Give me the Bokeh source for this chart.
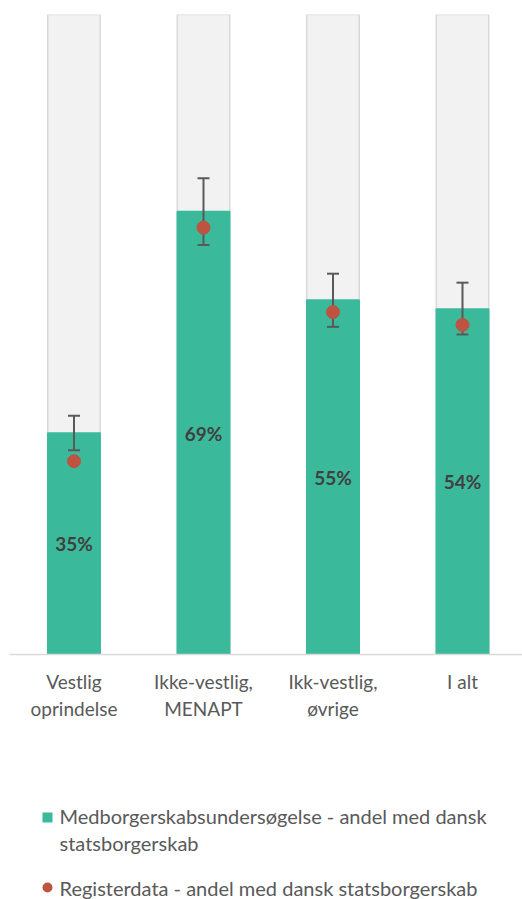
from bokeh.plotting import figure
from bokeh.models import Range1d, FixedTicker, ColumnDataSource, LabelSet
from bokeh.layouts import column
from bokeh.embed import file_html
from bokeh.resources import INLINE
from bokeh.core.properties import value

categories = ["Vestlig\noprindelse", "Ikke-vestlig,\nMENAPT", "Ikk-vestlig,\nøvrige", "I alt"]
survey = [34.6, 69.2, 55.4, 54.0]
survey_upper = [37.3, 74.4, 59.5, 58.1]
survey_lower = [31.9, 64.0, 51.2, 50.0]
register = [30.2, 66.7, 53.5, 51.5]
full = [100, 100, 100, 100]
labels = ["35%", "69%", "55%", "54%"]
legend_labels = ["Medborgerskabsundersøgelse - andel med dansk", "statsborgerskab",
                 "Registerdata - andel med dansk statsborgerskab"]

GREEN = "#3bba9b"
RED = "#bd5340"
GREY = "#595959"
FONT = "Lato"

x = list(range(len(categories)))
src = ColumnDataSource(dict(
    x=x, survey=survey, full=full, register=register,
    upper=survey_upper, lower=survey_lower,
    mid=[s / 2 for s in survey], lab=labels,
))

W = 522
H1 = 748
TOP = 14
FH = 640
LEFT = 9
p = figure(width=W, height=H1, output_backend="svg", toolbar_location=None,
           x_range=Range1d(-0.498, 3.4633), y_range=Range1d(0, 100),
           min_border_top=TOP, min_border_left=LEFT, min_border_right=0,
           min_border_bottom=H1 - TOP - FH, y_axis_location=None)
p.outline_line_color = None
p.grid.grid_line_color = None

p.vbar(x="x", top="full", bottom=0, width=0.405, source=src,
       fill_color="#f2f2f2", line_color="#d9d9d9", line_width=1.5)
p.vbar(x="x", top="survey", bottom=0, width=0.405, source=src,
       fill_color=GREEN, line_color=GREEN, line_width=1.5)

# error bars
p.segment(x0="x", y0="lower", x1="x", y1="upper", source=src,
          line_color=GREY, line_width=2)
p.scatter(x="x", y="upper", source=src, marker="dash", size=12,
          line_color=GREY, line_width=2)
p.scatter(x="x", y="lower", source=src, marker="dash", size=12,
          line_color=GREY, line_width=2)

p.scatter(x="x", y="register", source=src, size=13, marker="circle",
          fill_color=RED, line_color=RED)

lbl = LabelSet(x="x", y="mid", text="lab", source=src, text_align="center",
               text_baseline="middle", text_font=value(FONT), text_font_size="19px",
               text_font_style="bold", text_color="#404040")
p.add_layout(lbl)

ax = p.xaxis[0]
ax.ticker = FixedTicker(ticks=x)
ax.major_label_overrides = {i: c for i, c in zip(x, categories)}
ax.major_tick_line_color = None
ax.minor_tick_line_color = None
ax.axis_line_color = "#d9d9d9"
ax.axis_line_width = 1.5
ax.major_label_text_font = FONT
ax.major_label_text_font_size = "19px"
ax.major_label_text_color = GREY
ax.major_label_standoff = 9

# legend drawn in a second panel (pixel-like coordinates, y downwards);
# the column aligns its frame with the main plot's frame (left edge at LEFT)
LH = 899 - H1
lg = figure(width=W, height=LH, output_backend="svg", toolbar_location=None,
            x_range=Range1d(LEFT, W), y_range=Range1d(LH, 0),
            min_border=0, min_border_left=LEFT,
            x_axis_location=None, y_axis_location=None)
lg.grid.grid_line_color = None
lg.outline_line_color = None
lg.scatter(x=[47], y=[69], marker="square", size=10, fill_color=GREEN, line_color=None)
lg.scatter(x=[47], y=[139], marker="circle", size=10, fill_color=RED, line_color=None)
lg.text(x=[59, 59, 59], y=[67, 94, 139], text=legend_labels,
        text_font=value(FONT), text_font_size="20px", text_color=GREY,
        text_baseline="middle", text_align="left")

open("out.html", "w").write(file_html(column(p, lg, spacing=0), INLINE))
